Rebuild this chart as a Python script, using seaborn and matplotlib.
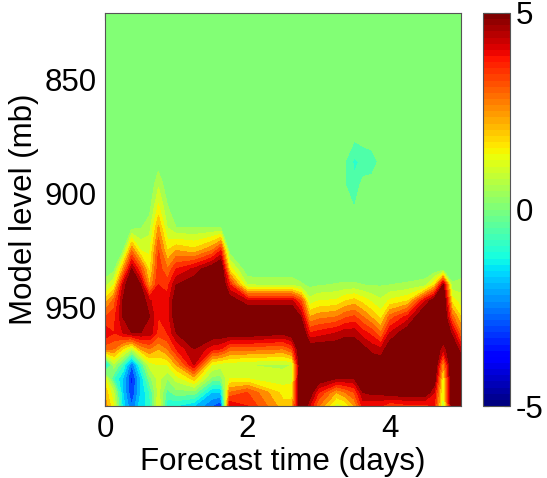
import numpy as np
import matplotlib
matplotlib.use("Agg")
import matplotlib.pyplot as plt
from matplotlib.colors import Normalize
from matplotlib.cm import ScalarMappable
import seaborn as sns

# Forecast time axis (days) and model pressure levels (mb)
forecast_days = [0.0, 0.125, 0.25, 0.375, 0.5, 0.625, 0.75, 0.875, 1.0, 1.25,
                 1.5, 1.625, 1.75, 2.0, 2.5, 2.625, 2.75, 2.875, 3.0, 3.25,
                 3.375, 3.5, 3.625, 3.75, 3.875, 4.0, 4.25, 4.5, 4.625, 4.75,
                 4.875, 5.0]
model_levels = [821, 877, 886, 896, 906, 915, 925, 933, 940, 947, 954, 961,
                968, 975, 981, 987, 993]

# Field values along forecast time, one list per model level
lev_821 = [0, 0, 0, 0, 0, 0, 0, 0, 0, 0, 0, 0, 0, 0, 0, 0,
           0, 0, 0, 0, 0, 0, 0, 0, 0, 0, 0, 0, 0, 0, 0, 0]
lev_877 = [0, 0, 0, 0, 0, 0, 0, 0, 0, 0, 0, 0, 0, 0, 0, 0,
           0, 0, 0, 0, 0, 0, 0.15, 0.2, 0, 0, 0, 0, 0, 0, 0, 0]
lev_886 = [0, 0, 0, 0, 0, 0, 0.2, 0, 0, 0, 0, 0, 0, 0, 0, 0,
           0, 0, 0, 0, 0, -0.6, -0.4, -0.25, 0.15, 0, 0, 0, 0, 0, 0, 0]
lev_896 = [0, 0, 0, 0, 0, 0, 0.9, 0.1, 0, 0, 0, 0, 0, 0, 0, 0,
           0, 0, 0, 0, 0, -0.4, 0.2, 0.2, 0, 0, 0, 0, 0, 0, 0, 0]
lev_906 = [0, 0, 0, 0, 0, 0.3, 1.6, 0.55, 0, 0, 0, 0, 0, 0, 0, 0,
           0, 0, 0, 0, 0, 0, 0, 0, 0, 0, 0, 0, 0, 0, 0, 0]
lev_915 = [0, 0, 0.1, 0.35, 0.45, 0.8, 2.6, 1.0, 0.5, 0.5, 0.5, 0.5, 0, 0, 0, 0,
           0, 0, 0, 0, 0, 0, 0, 0, 0, 0, 0, 0, 0, 0, 0, 0]
lev_925 = [0, 0.1, 0.4, 3.0, 1.5, 1.4, 3.5, 2.0, 2.5, 2.2, 3.0, 4.0, 0.2, 0, 0, 0,
           0, 0, 0, 0, 0, 0, 0, 0, 0, 0, 0, 0, 0, 0, 0, 0]
lev_933 = [0.05, 0.3, 2.5, 5.0, 3.5, 1.8, 3.8, 3.0, 4.0, 4.6, 5.5, 6.0, 1.8, 0, 0, 0,
           0, 0, 0, 0, 0, 0, 0, 0, 0, 0, 0, 0, 0, 0.1, 0, 0]
lev_940 = [0.8, 1.5, 4.5, 6.0, 5.0, 2.5, 4.0, 3.8, 5.0, 5.5, 6.0, 6.0, 4.0, 1.0, 0.9, 0.9,
           0.6, 0.35, 0.45, 0.55, 0.6, 0.6, 0.5, 0.45, 0.45, 0.5, 0.6, 0.8, 2.0, 5.0, 0.6, 0.8]
lev_947 = [2.2, 3.2, 5.0, 6.0, 5.5, 4.6, 4.0, 4.2, 5.5, 6.0, 6.0, 6.0, 5.5, 4.6, 4.6, 4.6,
           3.5, 1.2, 1.5, 1.6, 2.0, 2.2, 1.8, 1.4, 1.1, 1.6, 2.0, 4.5, 5.5, 6.0, 1.8, 1.2]
lev_954 = [3.5, 3.8, 5.0, 6.0, 5.5, 5.0, 4.0, 4.2, 5.5, 6.0, 6.0, 6.0, 6.0, 6.0, 6.0, 6.0,
           5.0, 2.5, 2.8, 3.0, 3.4, 3.6, 3.0, 2.4, 1.8, 3.2, 4.2, 6.0, 6.0, 6.0, 3.2, 2.0]
lev_961 = [4.4, 4.0, 4.5, 5.0, 5.0, 4.8, 3.8, 4.0, 5.0, 5.5, 5.5, 5.5, 5.5, 5.5, 5.2, 5.5,
           6.0, 4.0, 4.2, 4.5, 4.8, 4.8, 4.2, 3.8, 3.0, 4.5, 5.5, 6.0, 6.0, 6.0, 4.8, 3.0]
lev_968 = [3.2, 3.0, 2.0, 1.0, 2.5, 3.0, 2.5, 3.0, 4.0, 5.0, 4.2, 4.0, 3.2, 3.2, 3.0, 3.5,
           6.0, 5.5, 5.5, 5.5, 5.5, 5.5, 5.2, 4.8, 4.6, 5.5, 6.0, 6.0, 6.0, 4.5, 6.0, 4.5]
lev_975 = [-1.8, 0.8, -0.5, -2.5, -0.5, 1.2, 1.5, 1.5, 2.5, 4.5, 1.5, 1.2, 1.2, 1.0, 0.9, 1.0,
           6.0, 6.0, 6.0, 5.5, 5.5, 5.5, 5.5, 5.5, 5.5, 6.0, 6.0, 6.0, 6.0, 2.5, 6.0, 6.0]
lev_981 = [1.5, -0.5, -1.5, -3.2, -1.5, 0.3, 1.2, 0.5, 1.2, 2.2, 0.3, 0.3, 1.5, 1.5, 1.2, 1.3,
           6.0, 6.0, 5.5, 5.0, 5.0, 5.0, 5.5, 5.5, 5.5, 6.0, 6.0, 6.0, 5.5, 1.5, 6.0, 6.0]
lev_987 = [2.4, 1.0, -1.5, -3.0, -1.5, -0.5, 1.2, -0.2, 0.3, 0.3, -1.5, -1.5, 3.0, 3.5, 1.8, 1.8,
           6.0, 5.5, 4.0, 2.5, 3.0, 3.5, 5.0, 5.2, 5.2, 5.5, 5.5, 5.5, 4.5, 1.2, 6.0, 6.0]
lev_993 = [2.8, 1.5, -1.2, -2.5, -1.2, -0.8, 1.5, -0.8, -1.0, -1.5, -2.5, -3.0, 4.5, 4.0, 2.2, 2.2,
           6.0, 4.5, 3.0, 1.2, 1.5, 2.5, 4.2, 4.0, 4.0, 3.5, 3.8, 3.8, 4.0, 1.0, 5.5, 6.0]

color_ticks = [-5, 0, 5]
x_ticks = [0, 2, 4]
y_ticks = [850, 900, 950]

sns.set_style("ticks")
plt.rcParams["font.family"] = ["Liberation Sans", "DejaVu Sans"]
plt.rcParams["font.size"] = 22.5
plt.rcParams["axes.unicode_minus"] = False
for key in ("text.color", "axes.labelcolor", "xtick.labelcolor", "ytick.labelcolor"):
    plt.rcParams[key] = "black"

field = np.array([lev_821, lev_877, lev_886, lev_896, lev_906, lev_915, lev_925,
                  lev_933, lev_940, lev_947, lev_954, lev_961, lev_968, lev_975,
                  lev_981, lev_987, lev_993])

jet64 = matplotlib.colormaps["jet"].resampled(64)
norm = Normalize(vmin=-5, vmax=5)

# contour levels every 0.5; each band takes the colour of its lower bound
lower_bounds = np.arange(-5, 5.001, 0.5)
levels = lower_bounds - 1e-6
band_colors = [jet64(norm(v)) for v in lower_bounds[:-1]]
fill_colors = [jet64(0.0)] + band_colors + [jet64(1.0)]

fig = plt.figure(figsize=(5.47, 4.78), dpi=100)
ax = fig.add_axes([105 / 547, 72 / 478, 356 / 547, 393 / 478])
cax = fig.add_axes([483 / 547, 72 / 478, 27 / 547, 393 / 478])

ax.contourf(forecast_days, model_levels, field, levels=levels,
            colors=fill_colors, extend="both", antialiased=False)

ax.set_xlim(0, 5)
ax.set_ylim(993, 821)
ax.set_xticks(x_ticks)
ax.set_yticks(y_ticks)
ax.tick_params(direction="in", top=True, right=True, length=5, width=0.8,
               color="#333333", pad=6)
for sp in ax.spines.values():
    sp.set_linewidth(0.8)
    sp.set_color("#555555")
ax.set_xlabel("Forecast time (days)", labelpad=2)
ax.set_ylabel("Model level (mb)", labelpad=4)

cb = fig.colorbar(ScalarMappable(norm=norm, cmap=jet64), cax=cax, ticks=color_ticks)
cax.tick_params(direction="in", left=True, right=True, length=4, width=0.8,
                color="#333333", pad=4)
cb.outline.set_linewidth(0.8)
cb.outline.set_edgecolor("#555555")

fig.savefig("out.png", dpi=100, facecolor="white")
